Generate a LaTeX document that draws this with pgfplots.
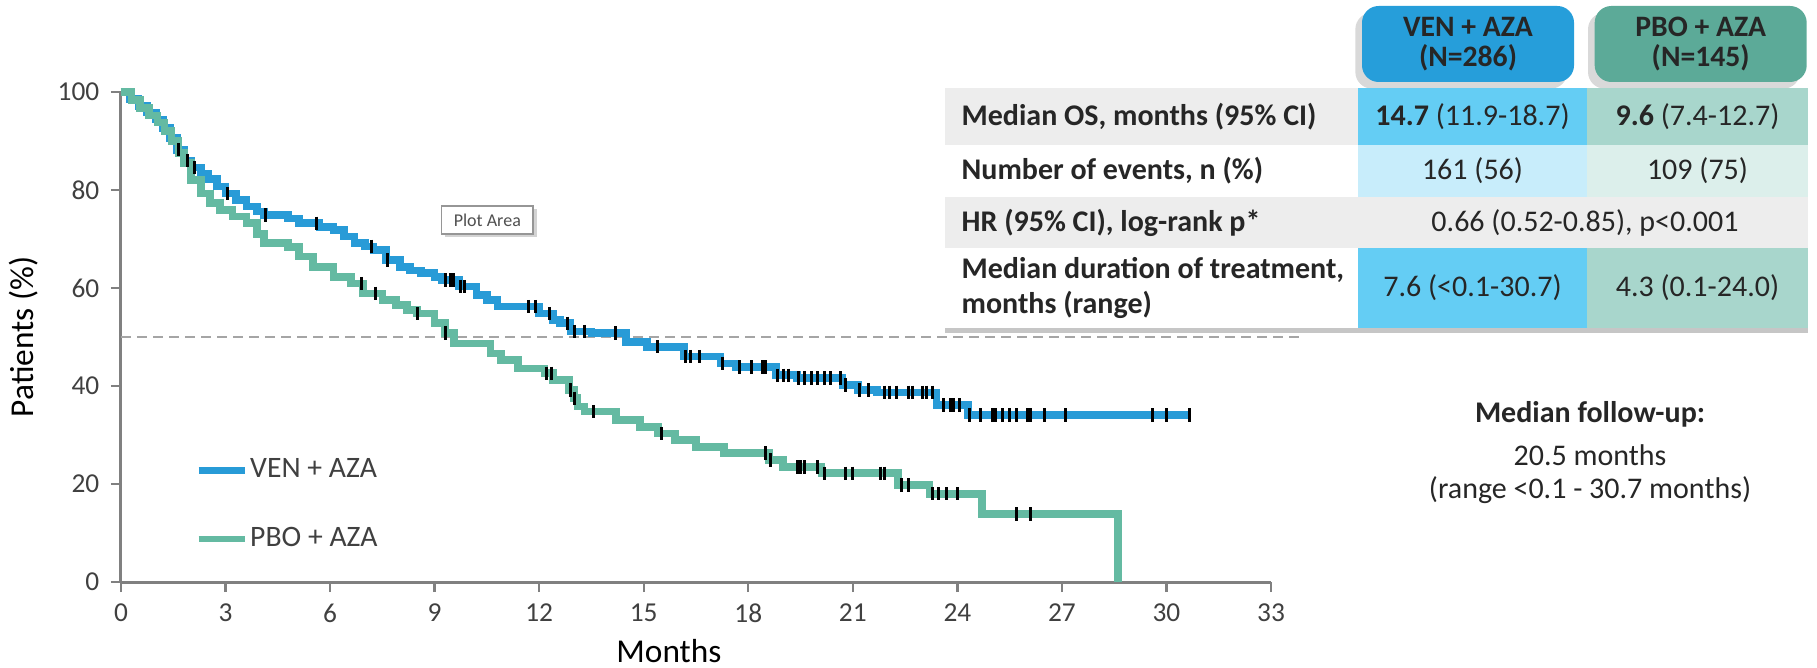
\documentclass[border=0pt]{standalone}
\usepackage{pgfplots}
\pgfplotsset{compat=1.18}
\usetikzlibrary{shadows}
\usepackage{fontspec}
\setmainfont{Carlito}
\definecolor{ven}{RGB}{40,155,215}
\definecolor{pbo}{RGB}{100,186,162}
\definecolor{venhead}{RGB}{38,158,218}
\definecolor{pbohead}{RGB}{92,170,152}
\definecolor{venA}{RGB}{100,205,244}
\definecolor{venB}{RGB}{200,237,251}
\definecolor{pboA}{RGB}{168,214,204}
\definecolor{pboB}{RGB}{220,239,235}
\definecolor{rowgray}{RGB}{237,237,237}
\definecolor{txt}{RGB}{38,38,38}
\definecolor{ticktxt}{RGB}{64,64,64}
\definecolor{axgray}{RGB}{128,128,128}
\newcommand{\tfont}{\fontsize{9}{10}\selectfont}
\begin{document}
\begin{tikzpicture}
\path[use as bounding box] (0pt,0pt) rectangle (545.1pt,200.4pt);
\begin{axis}[
  at={(36.3pt,25.8pt)}, anchor=south west,
  scale only axis, width=345pt, height=147pt,
  xmin=0, xmax=33, ymin=0, ymax=100,
  axis x line*=bottom, axis y line*=left,
  axis line style={axgray, line width=0.9pt},
  xtick={0,3,...,33}, ytick={0,20,...,100},
  tick align=outside, major tick length=3pt,
  tick style={axgray, line width=0.7pt},
  tick label style={font=\fontsize{8.2}{9.8}\selectfont, text=ticktxt},
  /pgf/number format/assume math mode=true,
  xlabel={Months}, ylabel={Patients (\%)},
  label style={font=\fontsize{9.3}{11}\selectfont, text=ticktxt},
  every axis x label/.style={at={(axis description cs:0.4765,0)}, anchor=center, yshift=-20.7pt},
  every axis y label/.style={at={(axis description cs:-0.085,0.5)}, rotate=90, anchor=center},
  clip=false,
  legend style={at={(axis cs:2.12,15.8)}, anchor=west, draw=none, fill=none,
    inner sep=0pt, row sep=11pt, font=\fontsize{8.9}{10}\selectfont, text=ticktxt,
    nodes={inner sep=0.5pt, text height=6.5pt, text depth=2pt}},
  legend cell align=left,
  legend image code/.code={\draw[#1, line width=1.9pt] (0pt,0pt) -- (14pt,0pt);},
]
\addplot[color={rgb,255:red,165;green,165;blue,165}, line width=0.7pt, dash pattern=on 3pt off 1.8pt, forget plot] coordinates {(0,50) (33.8,50)};
\addplot[const plot, ven, line width=2.3pt] coordinates {
(0,100) (0.25,98.6) (0.5,97.2) (0.75,95.8) (1.0,94.4) (1.2,92.6) (1.4,90.6) (1.6,88.2) (1.8,86.0) (2.0,84.6) (2.3,83.4) (2.5,82.2) (2.75,80.7) (3.0,79.3) (3.3,78.0) (3.6,76.6) (3.9,75.6) (4.1,74.9) (4.8,74.2) (5.1,73.2) (5.7,72.4) (6.1,71.8) (6.4,70.5) (6.7,69.2) (7.0,68.5) (7.25,67.8) (7.6,65.7) (8.0,64.3) (8.3,63.6) (8.6,63.0) (9.0,62.3) (9.2,61.6) (9.7,60.3) (10.2,58.6) (10.5,57.5) (10.8,56.2) (12.0,54.8) (12.4,53.5) (12.6,52.8) (12.9,51.1) (13.5,50.8) (14.5,49.0) (15.1,48.0) (16.15,46.0) (17.2,44.6) (17.65,43.9) (18.8,42.2) (19.4,41.6) (20.7,40.2) (21.15,39.2) (21.7,38.7) (23.4,36.1) (24.3,34.1) (30.7,34.1)};
\addlegendentry{VEN + AZA}
\addplot[const plot, pbo, line width=2.3pt] coordinates {
(0,100) (0.3,98.3) (0.55,96.8) (0.8,95.2) (1.05,93.8) (1.25,92.0) (1.45,90.0) (1.65,87.6) (1.8,85.5) (2.0,82.0) (2.3,79.3) (2.55,77.3) (2.85,75.9) (3.2,74.6) (3.6,73.2) (3.9,71.0) (4.1,69.2) (4.8,68.4) (5.1,66.4) (5.5,64.3) (6.1,62.3) (6.6,60.9) (6.95,58.9) (7.5,57.5) (7.9,56.5) (8.2,55.5) (8.5,54.8) (9.0,52.8) (9.3,50.8) (9.55,48.7) (10.6,46.6) (10.9,45.3) (11.4,43.6) (12.15,42.6) (12.4,41.2) (12.85,39.2) (13.0,37.5) (13.1,35.8) (13.3,34.8) (14.2,33.1) (14.9,31.7) (15.4,30.3) (15.9,29.0) (16.5,27.6) (17.3,26.3) (18.6,24.9) (19.0,23.5) (20.1,22.2) (22.3,19.8) (23.2,18.0) (24.7,13.9) (28.6,0)};
\addlegendentry{PBO + AZA}
\addplot[only marks, mark=|, mark size=2pt, black, mark options={line width=0.9pt}, forget plot] coordinates {
(1.65,88.2) (1.9,86.0) (2.1,84.6) (3.05,79.3) (4.15,74.9) (5.6,73.2) (7.2,68.5) (7.65,65.7) (9.3,61.6) (9.45,61.6) (9.55,61.6) (9.75,60.3) (9.85,60.3) (11.7,56.2) (11.9,56.2) (12.3,54.8) (12.8,52.8) (13.0,51.1) (13.3,51.1) (14.2,50.8) (15.4,48.0) (16.2,46.0) (16.35,46.0) (16.6,46.0) (17.25,44.6) (17.75,43.9) (18.1,43.9) (18.4,43.9) (18.5,43.9) (18.85,42.2) (19.0,42.2) (19.15,42.2) (19.45,41.6) (19.6,41.6) (19.8,41.6) (20.0,41.6) (20.2,41.6) (20.35,41.6) (20.65,41.6) (20.8,40.2) (21.2,39.2) (21.45,39.2) (21.9,38.7) (22.05,38.7) (22.25,38.7) (22.6,38.7) (22.7,38.7) (23.0,38.7) (23.1,38.7) (23.3,38.7) (23.6,36.1) (23.8,36.1) (23.9,36.1) (24.05,36.1) (24.35,34.1) (24.65,34.1) (25.0,34.1) (25.1,34.1) (25.3,34.1) (25.5,34.1) (25.7,34.1) (26.0,34.1) (26.1,34.1) (26.5,34.1) (27.1,34.1) (29.6,34.1) (30.0,34.1) (30.66,34.1)};
\addplot[only marks, mark=|, mark size=2pt, black, mark options={line width=0.9pt}, forget plot] coordinates {
(6.9,60.9) (7.3,58.9) (8.5,54.8) (9.3,50.8) (12.2,42.6) (12.35,42.6) (12.9,39.2) (13.0,37.5) (13.55,34.8) (15.5,30.3) (18.5,26.3) (18.65,24.9) (19.4,23.5) (19.5,23.5) (19.6,23.5) (20.0,23.5) (20.2,22.2) (20.8,22.2) (21.0,22.2) (21.8,22.2) (21.9,22.2) (22.4,19.8) (22.6,19.8) (23.3,18.0) (23.45,18.0) (23.7,18.0) (24.0,18.0) (25.7,13.9) (26.1,13.9)};
\end{axis}
% Plot Area tooltip
\node[draw={rgb,255:red,150;green,150;blue,150}, fill=white, line width=0.5pt, minimum width=27.5pt, minimum height=8.4pt, inner sep=0pt,
  drop shadow={shadow xshift=1pt, shadow yshift=-1pt, opacity=0.35},
  font=\fontsize{5.4}{6}\selectfont, text={rgb,255:red,80;green,80;blue,80}] at (146.2pt,134.4pt) {Plot Area};
% header boxes
\node[fill=venhead, rounded corners=5pt, minimum width=63.6pt, minimum height=22.8pt, align=center, inner sep=0pt,
  drop shadow={shadow xshift=-2pt, shadow yshift=-2pt, opacity=0.3},
  font=\fontsize{8.9}{9.2}\selectfont\bfseries, text=txt] at (440.4pt,187.2pt) {VEN + AZA\\(N=286)};
\node[fill=pbohead, rounded corners=5pt, minimum width=63.6pt, minimum height=22.8pt, align=center, inner sep=0pt,
  drop shadow={shadow xshift=-2pt, shadow yshift=-2pt, opacity=0.3},
  font=\fontsize{8.9}{9.2}\selectfont\bfseries, text=txt] at (510.2pt,187.2pt) {PBO + AZA\\(N=145)};
% table
\fill[white, drop shadow={shadow xshift=0pt, shadow yshift=-1.5pt, opacity=0.45}] (283.5pt,102pt) rectangle (542.4pt,174pt);
\fill[rowgray] (283.5pt,156.9pt) rectangle (407.4pt,174pt);
\fill[venA] (407.4pt,156.9pt) rectangle (476.1pt,174pt);
\fill[pboA] (476.1pt,156.9pt) rectangle (542.4pt,174pt);
\fill[white] (283.5pt,141.3pt) rectangle (407.4pt,156.9pt);
\fill[venB] (407.4pt,141.3pt) rectangle (476.1pt,156.9pt);
\fill[pboB] (476.1pt,141.3pt) rectangle (542.4pt,156.9pt);
\fill[rowgray] (283.5pt,126pt) rectangle (542.4pt,141.3pt);
\fill[white] (283.5pt,102pt) rectangle (407.4pt,126pt);
\fill[venA] (407.4pt,102pt) rectangle (476.1pt,126pt);
\fill[pboA] (476.1pt,102pt) rectangle (542.4pt,126pt);
\begin{scope}[every node/.style={text=txt, font=\tfont, inner sep=0pt}]
\node[anchor=west, font=\tfont\bfseries] at (288.3pt,165.45pt) {Median OS, months (95\% CI)};
\node[anchor=west, font=\tfont\bfseries] at (288.3pt,149.1pt) {Number of events, n (\%)};
\node[anchor=west, font=\tfont\bfseries] at (288.3pt,133.65pt) {HR (95\% CI), log-rank p*};
\node[anchor=west, font=\fontsize{9}{10.5}\selectfont\bfseries, align=left] at (288.3pt,114pt) {Median duration of treatment,\\months (range)};
\node at (441.75pt,165.45pt) {\textbf{14.7} (11.9-18.7)};
\node at (509.25pt,165.45pt) {\textbf{9.6} (7.4-12.7)};
\node at (441.75pt,149.1pt) {161 (56)};
\node at (509.25pt,149.1pt) {109 (75)};
\node at (475.5pt,133.65pt) {0.66 (0.52-0.85), p<0.001};
\node at (441.75pt,114pt) {7.6 (<0.1-30.7)};
\node at (509.25pt,114pt) {4.3 (0.1-24.0)};
\node[font=\tfont\bfseries] at (477pt,76.2pt) {Median follow-up:};
\node at (477pt,63.9pt) {20.5 months};
\node at (477pt,53.4pt) {(range <0.1 - 30.7 months)};
\end{scope}
\end{tikzpicture}
\end{document}
